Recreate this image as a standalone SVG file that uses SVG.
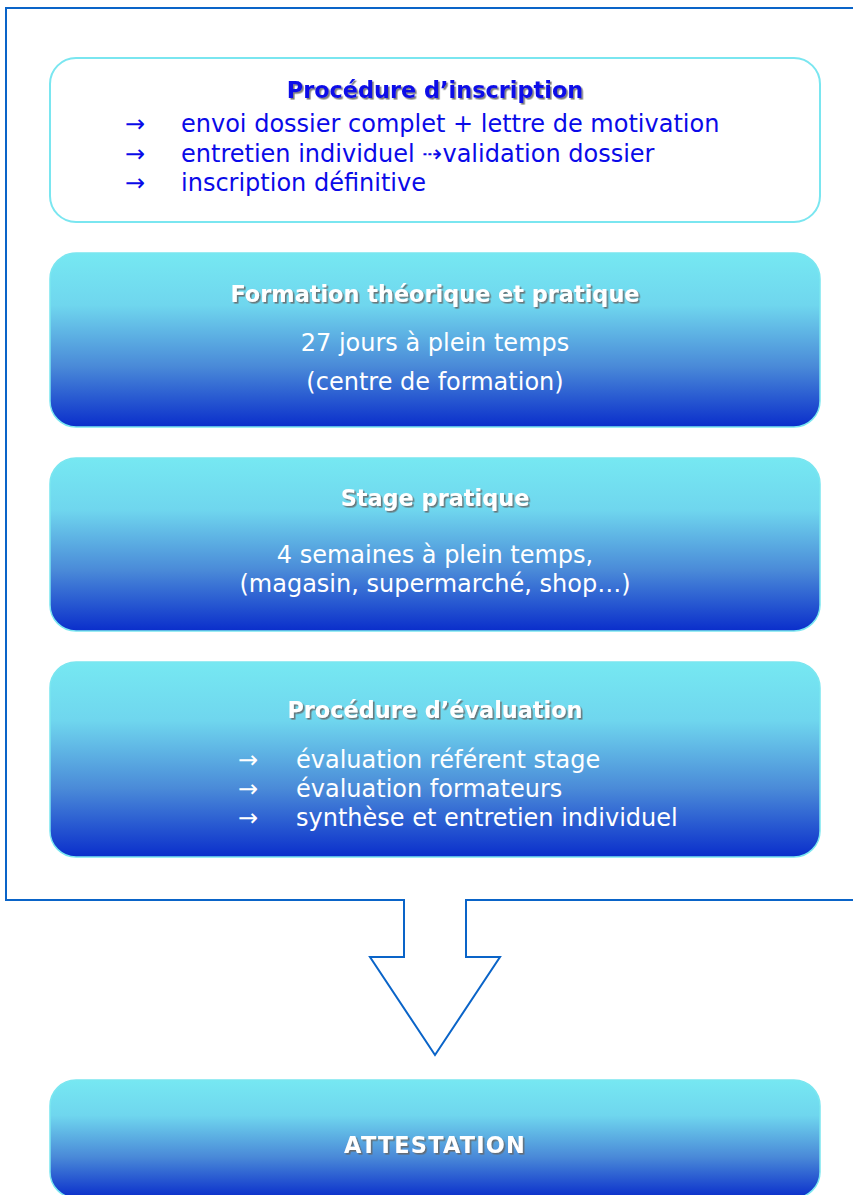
<svg xmlns="http://www.w3.org/2000/svg" width="853" height="1195" viewBox="0 0 853 1195">
<defs>
<linearGradient id="g" x1="0" y1="0" x2="0" y2="1">
<stop offset="0" stop-color="#76e8f2"/>
<stop offset="0.3" stop-color="#6fd6ee"/>
<stop offset="0.65" stop-color="#4a8ad8"/>
<stop offset="1" stop-color="#0a2ecb"/>
</linearGradient>
<filter id="sh" x="-10%" y="-30%" width="120%" height="160%">
<feDropShadow dx="1.6" dy="1.6" stdDeviation="0.5" flood-color="#666" flood-opacity="0.85"/>
</filter>
<style>
.t{font-family:"DejaVu Sans",Verdana,sans-serif;}
.title{font-weight:bold;font-size:22.4px;text-anchor:middle;filter:url(#sh);}
.body{font-size:24px;}
.w{fill:#ffffff;}
.b{fill:#0a0ae8;}
.box{fill:url(#g);stroke:#7ae6f0;stroke-width:1.5;}
</style>
</defs>
<g id="connectors">
<path d="M860,8 H6 V900 H404 V957 H370 L435,1055 L500,957 H466 V900 H860" fill="none" stroke="#0a64c8" stroke-width="2"/>
</g>
<g id="n1">
<rect x="50" y="58" width="770" height="164" rx="26" fill="#fff" stroke="#7ae6f0" stroke-width="2"/>
<text class="t title b" x="435" y="98">Procédure d’inscription</text>
<text class="t body b" x="125" y="132">→</text>
<text class="t body b" x="181" y="132">envoi dossier complet + lettre de motivation</text>
<text class="t body b" x="125" y="162">→</text>
<text class="t body b" x="181" y="162">entretien individuel ⇢validation dossier</text>
<text class="t body b" x="125" y="191">→</text>
<text class="t body b" x="181" y="191">inscription définitive</text>
</g>
<g id="n2">
<rect class="box" x="50" y="253" width="770" height="174" rx="26"/>
<text class="t title w" x="435" y="302">Formation théorique et pratique</text>
<text class="t body w" x="435" y="351" text-anchor="middle">27 jours à plein temps</text>
<text class="t body w" x="435" y="390" text-anchor="middle">(centre de formation)</text>
</g>
<g id="n3">
<rect class="box" x="50" y="458" width="770" height="173" rx="26"/>
<text class="t title w" x="435" y="506">Stage pratique</text>
<text class="t body w" x="435" y="563" text-anchor="middle">4 semaines à plein temps,</text>
<text class="t body w" x="435" y="592" text-anchor="middle">(magasin, supermarché, shop…)</text>
</g>
<g id="n4">
<rect class="box" x="50" y="662" width="770" height="195" rx="26"/>
<text class="t title w" x="435" y="718">Procédure d’évaluation</text>
<text class="t body w" x="238" y="768">→</text>
<text class="t body w" x="296" y="768">évaluation référent stage</text>
<text class="t body w" x="238" y="797">→</text>
<text class="t body w" x="296" y="797">évaluation formateurs</text>
<text class="t body w" x="238" y="826">→</text>
<text class="t body w" x="296" y="826">synthèse et entretien individuel</text>
</g>
<g id="n5">
<rect class="box" x="50" y="1080" width="770" height="118" rx="26"/>
<text class="t title w" x="435" y="1153" letter-spacing="1.2">ATTESTATION</text>
</g>
</svg>
